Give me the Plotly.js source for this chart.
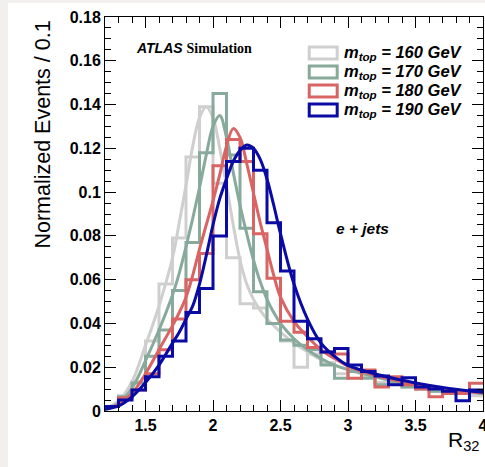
<!DOCTYPE html>
<html>
<head>
<meta charset="utf-8">
<script src="https://cdn.plot.ly/plotly-3.0.1.min.js"></script>
<style>
  html, body { margin: 0; padding: 0; background: #f1f0ee; width: 485px; height: 467px; overflow: hidden; }
  #chart { position: absolute; left: 8px; top: 3px; width: 485px; height: 464px; background: #fff; }
</style>
</head>
<body>
<div id="chart"></div>
<script>
// ---- data ----
var binEdges = [1.2,1.3,1.4,1.5,1.6,1.7,1.8,1.9,2.0,2.1,2.2,2.3,2.4,2.5,2.6,2.7,2.8,2.9,3.0,3.1,3.2,3.3,3.4,3.5,3.6,3.7,3.8,3.9,4.0];

var hist160 = [0.002,0.007,0.0134,0.032,0.058,0.079,0.116,0.139,0.104,0.070,0.049,0.047,0.040,0.032,0.020,0.026,0.022,0.017,0.018,0.016,0.013,0.013,0.011,0.011,0.009,0.009,0.008,0.007];
var hist170 = [0.002,0.0065,0.0128,0.025,0.037,0.055,0.077,0.118,0.145,0.117,0.0835,0.0545,0.040,0.0324,0.030,0.028,0.021,0.015,0.018,0.015,0.012,0.013,0.011,0.010,0.009,0.009,0.009,0.0085];
var hist180 = [0.002,0.006,0.0096,0.017,0.028,0.042,0.060,0.072,0.112,0.124,0.114,0.081,0.0607,0.041,0.036,0.029,0.027,0.026,0.015,0.0187,0.011,0.0157,0.012,0.010,0.0065,0.008,0.008,0.0127];
var hist190 = [0.002,0.005,0.0096,0.0157,0.025,0.032,0.045,0.056,0.080,0.114,0.120,0.110,0.086,0.064,0.041,0.033,0.027,0.0285,0.021,0.018,0.016,0.012,0.0152,0.011,0.010,0.009,0.0047,0.0096];

var fitX   = [1.2,1.3,1.4,1.5,1.6,1.7,1.75,1.8,1.85,1.9,1.95,2.0,2.05,2.1,2.15,2.2,2.25,2.3,2.35,2.4,2.45,2.5,2.6,2.7,2.8,2.9,3.0,3.25,3.5,3.75,4.0];
var fit160 = [0.001,0.0046,0.0134,0.030,0.048,0.070,0.086,0.103,0.121,0.134,0.139,0.134,0.120,0.103,0.085,0.069,0.058,0.051,0.046,0.042,0.039,0.036,0.031,0.027,0.0235,0.021,0.0188,0.0147,0.0117,0.0094,0.0078];
var fit170 = [0.0008,0.0036,0.0105,0.023,0.037,0.053,0.063,0.075,0.088,0.102,0.117,0.130,0.135,0.125,0.109,0.094,0.081,0.069,0.059,0.051,0.045,0.040,0.033,0.028,0.024,0.021,0.019,0.0149,0.0119,0.0096,0.008];
var fit180 = [0.0008,0.003,0.008,0.017,0.028,0.039,0.045,0.052,0.062,0.074,0.085,0.096,0.108,0.121,0.129,0.125,0.113,0.0995,0.086,0.074,0.062,0.052,0.041,0.034,0.028,0.024,0.0205,0.0155,0.0122,0.0099,0.0082];
var fit190 = [0.0008,0.0023,0.0065,0.013,0.021,0.031,0.036,0.042,0.048,0.058,0.071,0.085,0.097,0.106,0.114,0.119,0.1215,0.120,0.115,0.106,0.094,0.081,0.058,0.042,0.031,0.025,0.0208,0.0162,0.0128,0.0103,0.0086];

var seriesNames = ['m<sub>top</sub> = 160 GeV','m<sub>top</sub> = 170 GeV','m<sub>top</sub> = 180 GeV','m<sub>top</sub> = 190 GeV'];
var colors = ['#cfcfcf','#88aa9c','#d96464','#0a0aa5'];

var xTickVals = [1.5,2,2.5,3,3.5,4];
var yTickVals = [0,0.02,0.04,0.06,0.08,0.1,0.12,0.14,0.16,0.18];

// ---- traces ----
var hists = [hist160, hist170, hist180, hist190];
var fits = [fit160, fit170, fit180, fit190];
var traces = [];
for (var i = 0; i < 4; i++) {
  var yy = hists[i].concat([hists[i][hists[i].length-1]]);
  traces.push({
    x: binEdges, y: yy, type: 'scatter', mode: 'lines',
    line: {shape: 'hv', color: colors[i], width: 3},
    hoverinfo: 'skip', showlegend: false
  });
  traces.push({
    x: fitX, y: fits[i], type: 'scatter', mode: 'lines',
    line: {shape: 'spline', smoothing: 1, color: colors[i], width: 3},
    hoverinfo: 'skip', showlegend: false
  });
}

// ---- layout ----
var W = 378.5, H = 394;          // plot area size in px
function px(x) { return (x - 104.5) / W; }
function py(y) { return (411 - y) / H; }

var shapes = [], annotations = [];
var rowY = [53, 72, 91, 110];
for (var k = 0; k < 4; k++) {
  shapes.push({
    type: 'rect', xref: 'paper', yref: 'paper',
    x0: px(309), x1: px(337), y0: py(rowY[k] + 6), y1: py(rowY[k] - 6),
    line: {color: colors[k], width: 3}, fillcolor: 'rgba(0,0,0,0)'
  });
  annotations.push({
    xref: 'paper', yref: 'paper', x: px(342), y: py(rowY[k]),
    xanchor: 'left', yanchor: 'middle', showarrow: false,
    text: '<b><i>' + seriesNames[k] + '</i></b>',
    font: {family: 'Liberation Sans', size: 16.5, color: '#000'}
  });
}
annotations.push({
  xref: 'paper', yref: 'paper', x: px(134), y: py(48),
  xanchor: 'left', yanchor: 'middle', showarrow: false,
  text: '<b><i>ATLAS</i></b> <span style="font-family:Liberation Serif"><b>Simulation</b></span>',
  font: {family: 'Liberation Sans', size: 14, color: '#000'}
});
annotations.push({
  xref: 'paper', yref: 'paper', x: px(334), y: py(228),
  xanchor: 'left', yanchor: 'middle', showarrow: false,
  text: '<b><i>e + jets</i></b>',
  font: {family: 'Liberation Sans', size: 15.5, color: '#000'}
});
annotations.push({
  xref: 'paper', yref: 'paper', x: px(42), y: py(19),
  xanchor: 'center', yanchor: 'top', showarrow: false, textangle: -90,
  text: 'Normalized Events / 0.1',
  font: {family: 'Liberation Sans', size: 21.5, color: '#000'}
});
annotations.push({
  xref: 'paper', yref: 'paper', x: px(482), y: py(426),
  xanchor: 'right', yanchor: 'top', showarrow: false,
  text: 'R<sub>32</sub>',
  font: {family: 'Liberation Sans', size: 21, color: '#000'}
});

var axisCommon = {
  showline: true, linecolor: '#000', linewidth: 1, mirror: 'allticks',
  ticks: 'inside', ticklen: 11, tickwidth: 1, tickcolor: '#000',
  showgrid: false, zeroline: false, ticklabeloverflow: 'allow',
  tickfont: {family: 'Liberation Sans', size: 16, color: '#000', weight: 'bold'}
};

var layout = {
  width: 485, height: 464,
  margin: {l: 96.5, r: 10, t: 14, b: 56},
  paper_bgcolor: '#ffffff', plot_bgcolor: '#ffffff',
  showlegend: false,
  xaxis: Object.assign({}, axisCommon, {
    range: [1.2, 4.0], tickvals: xTickVals, ticktext: xTickVals.map(String),
    minor: {dtick: 0.1, tick0: 0, ticks: 'inside', ticklen: 6, tickcolor: '#000', showgrid: false}
  }),
  yaxis: Object.assign({}, axisCommon, {
    range: [0, 0.18], tickvals: yTickVals, ticktext: yTickVals.map(String),
    minor: {dtick: 0.005, tick0: 0, ticks: 'inside', ticklen: 6, tickcolor: '#000', showgrid: false}
  }),
  shapes: shapes,
  annotations: annotations
};

Plotly.newPlot('chart', traces, layout, {staticPlot: true, displayModeBar: false});
</script>
</body>
</html>
